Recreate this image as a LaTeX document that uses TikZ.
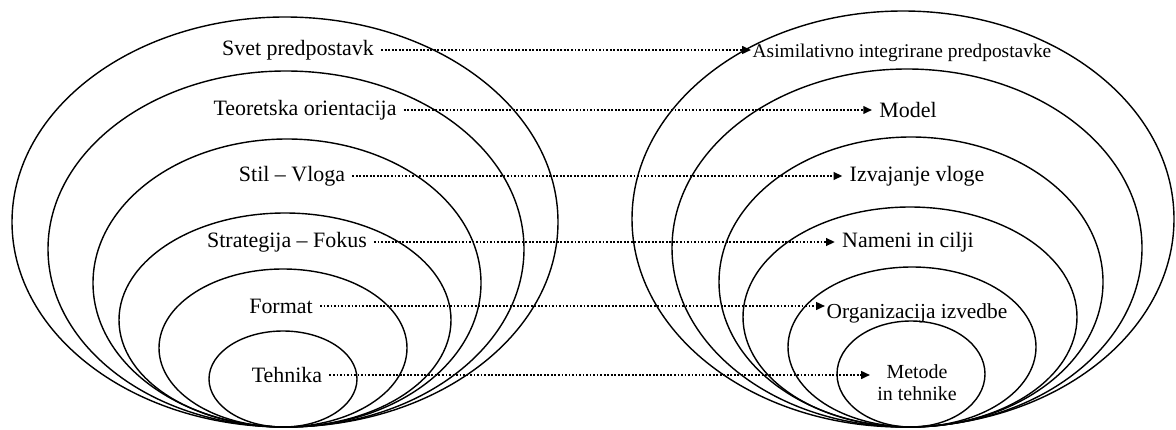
\documentclass[tikz,border=0pt]{standalone}
\usepackage{fontspec}
\setmainfont{Liberation Serif}
\usetikzlibrary{arrows.meta}
\tikzset{
  ring/.style={draw=black, line width=1pt},
  lbl/.style={inner xsep=5pt, inner ysep=0pt, font=\fontsize{15.6}{17}\selectfont},
  dotarrow/.style={line width=1.4pt, dash pattern=on 1.3pt off 1.2pt, -{Triangle[length=2.2mm,width=1.9mm]}}
}

\begin{document}
\begin{tikzpicture}[x=0.025cm, y=0.025cm]
  \useasboundingbox (0,0) rectangle (1176,429);
  % left set of ellipses, all touching at the bottom
  \foreach \cx/\rx/\ry in {285/273/205, 286/238/178, 287/194/144, 285/166/107, 283/124/79, 283/74/48}
    \draw [ring] (\cx,2+\ry) ellipse [x radius=\rx, y radius=\ry];
  % right set
  \foreach \cx/\rx/\ry in {903/271/208, 907/235/179, 911/192/145, 910/167/110, 912/124/80, 911/74/53}
    \draw [ring] (\cx,2+\ry) ellipse [x radius=\rx, y radius=\ry];

  \node [lbl] (svet) at (298,379) {Svet predpostavk};
  \node [lbl] (teor) at (305,319) {Teoretska orientacija};
  \node [lbl] (stil) at (292,253) {Stil – Vloga};
  \node [lbl] (strat) at (287,187) {Strategija – Fokus};
  \node [lbl] (format) at (281,123) {Format};
  \node [lbl] (tehnika) at (287,54) {Tehnika};

  \node [lbl, inner xsep=1pt, font=\fontsize{13.8}{15}\selectfont] (asim) at (902,376) {Asimilativno integrirane predpostavke};
  \node [lbl] (model) at (908,319) {Model};
  \node [lbl] (izv) at (917,253) {Izvajanje vloge};
  \node [lbl] (nam) at (908,187) {Nameni in cilji};
  \node [lbl, inner xsep=1pt, font=\fontsize{15.2}{16}\selectfont] (org) at (917,116) {Organizacija izvedbe};
  \node [lbl, align=center, font=\fontsize{14.2}{15.5}\selectfont] (metode) at (917,46) {Metode\\in tehnike};

  \draw [dotarrow] (svet.east) -- (svet.east -| asim.west);
  \draw [dotarrow] (teor.east) -- (teor.east -| model.west);
  \draw [dotarrow] (stil.east) -- (stil.east -| izv.west);
  \draw [dotarrow] (strat.east) -- (strat.east -| nam.west);
  \draw [dotarrow] (format.east) -- (format.east -| org.west);
  \draw [dotarrow] (tehnika.east) -- (tehnika.east -| metode.west);
\end{tikzpicture}
\end{document}
